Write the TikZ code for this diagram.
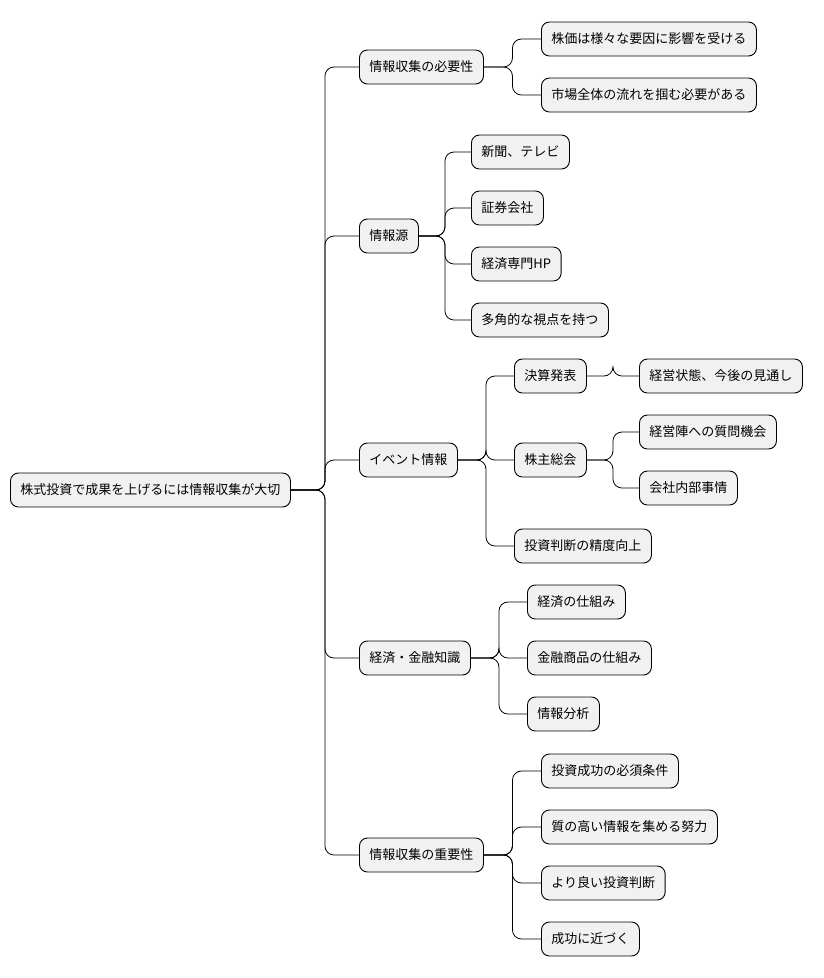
\documentclass[tikz,border=0pt]{standalone}
\usepackage{fontspec}
\setmainfont{Noto Sans CJK JP}
\usetikzlibrary{calc}
\definecolor{boxfill}{HTML}{F1F1F1}
\begin{document}
\begin{tikzpicture}[x=1pt,y=-1pt,
  box/.style={draw=black,fill=boxfill,rounded corners=8pt,line width=0.9pt,anchor=west,
    inner xsep=10pt,minimum height=34pt,font=\fontsize{13}{16}\selectfont},
  conn/.style={draw=black,line width=0.8pt,rounded corners=9pt}]
\useasboundingbox (0,0) rectangle (824,978);
\node[box] (r) at (10,490) {株式投資で成果を上げるには情報収集が大切};
\node[box] (a) at (359,67) {情報収集の必要性};
\node[box] (b) at (359,236) {情報源};
\node[box] (c) at (359,460) {イベント情報};
\node[box] (d) at (359,658) {経済・金融知識};
\node[box] (e) at (359,855) {情報収集の重要性};
\node[box] (a1) at (541,39) {株価は様々な要因に影響を受ける};
\node[box] (a2) at (541,95) {市場全体の流れを掴む必要がある};
\node[box] (b1) at (471,152) {新聞、テレビ};
\node[box] (b2) at (471,208) {証券会社};
\node[box] (b3) at (471,264) {経済専門HP};
\node[box] (b4) at (471,320) {多角的な視点を持つ};
\node[box] (c1) at (514,376) {決算発表};
\node[box] (c2) at (514,460) {株主総会};
\node[box] (c3) at (514,546) {投資判断の精度向上};
\node[box] (c11) at (639,376) {経営状態、今後の見通し};
\node[box] (c21) at (639,432) {経営陣への質問機会};
\node[box] (c22) at (639,488) {会社内部事情};
\node[box] (d1) at (527,602) {経済の仕組み};
\node[box] (d2) at (527,658) {金融商品の仕組み};
\node[box] (d3) at (527,714) {情報分析};
\node[box] (e1) at (541,771) {投資成功の必須条件};
\node[box] (e2) at (541,827) {質の高い情報を集める努力};
\node[box] (e3) at (541,883) {より良い投資判断};
\node[box] (e4) at (541,939) {成功に近づく};
\foreach \src/\dst in {r/a,r/b,r/c,r/d,r/e,a/a1,a/a2,b/b1,b/b2,b/b3,b/b4,c/c1,c/c2,c/c3,c1/c11,c2/c21,c2/c22,d/d1,d/d2,d/d3,e/e1,e/e2,e/e3,e/e4}
  \draw[conn] let \p1=(\src.east),\p2=(\dst.west) in (\p1) -- ({(\x1+\x2)/2},\y1) |- (\p2);
\end{tikzpicture}
\end{document}
